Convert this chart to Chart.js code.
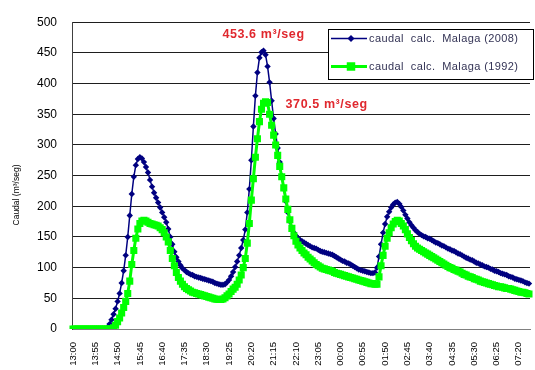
<!DOCTYPE html>
<html>
<head>
<meta charset="utf-8">
<script src="https://cdn.jsdelivr.net/npm/chart.js@4.4.1/dist/chart.umd.min.js"></script>
<style>
  html, body { margin: 0; padding: 0; background: #ffffff; }
  canvas { display: block; }
</style>
</head>
<body>
<canvas id="c" width="535" height="370"></canvas>
<script>
// ---- DATA ----
// Visible tick labels (every 55 minutes = every 11th 5‑minute sample)
const tickLabels = ["13:00","13:55","14:50","15:45","16:40","17:35","18:30","19:25","20:20","21:15",
  "22:10","23:05","00:00","00:55","01:50","02:45","03:40","04:35","05:30","06:25","07:20"];

// Categories: 5-minute time steps starting at 13:00
const startMinutes = 13 * 60;
const stepMinutes = 5;
const nPoints = 226;
const categories = [];
for (let i = 0; i < nPoints; i++) {
  const m = (startMinutes + i * stepMinutes) % (24 * 60);
  categories.push(String(Math.floor(m / 60)).padStart(2, "0") + ":" + String(m % 60).padStart(2, "0"));
}

const caudal2008 = [
  0,0,0,0,0,0,0,0,0,0,
  0,0,0,0,0,0,0,2,8,15,
  24,33,45,58,75,95,120,150,185,220,
  248,267,277,280,278,272,264,255,243,232,
  222,214,206,198,190,182,174,163,150,138,
  126,117,110,104,99,96,93,91,89,88,
  86,85,84,83,82,81,80,79,78,77,
  75,74,73,72,72,73,76,80,86,93,
  101,110,120,132,145,162,190,228,275,330,
  380,418,442,451,453.6,447,428,402,372,343,
  318,295,272,250,228,208,190,175,164,157,
  152,148,145,143,141,139,137,135,133,132,
  131,129,127,126,125,124,123,122,121,119,
  117,115,113,111,110,108,107,105,103,101,
  99,97,96,95,94,93,92,91,91,92,
  100,118,138,157,171,183,191,198,203,206,
  207,204,199,193,186,180,174,169,165,161,
  158,155,153,151,150,148,147,145,143,141,
  140,138,136,135,133,131,130,128,127,125,
  123,122,120,118,116,115,113,112,110,108,
  107,105,104,102,101,100,98,97,95,94,
  93,91,90,89,88,86,85,84,82,81,
  80,79,78,76,75,74
];

const caudal1992 = [
  0,0,0,0,0,0,0,0,0,0,
  0,0,0,0,0,0,0,0,0,0,
  2,6,12,18,26,35,45,58,78,105,
  128,148,163,172,176,177,176,174,172,171,
  170,169,168,165,162,157,150,142,128,115,
  103,92,84,78,73,69,66,64,62,60,
  59,58,57,56,55,54,53,52,51,50,
  49,48.5,48,48,49,51,54,57,61,65,
  68,73,80,88,100,115,140,172,210,245,
  280,310,338,358,368,370.5,369,350,332,316,
  300,283,265,248,230,212,195,178,164,152,
  143,137,132,128,124,121,117,114,111,108,
  105,103,101,99,98,97,96,95,94,92,
  91,90,89,88,87,86,85,84,83,82,
  81,80,79,78,77,76,75,74,74,73,
  73,85,103,120,135,148,157,165,171,175,
  177,176,172,168,162,155,149,144,139,135,
  132,130,128,126,124,122,120,118,116,114,
  112,110,108,106,104,102,100,99,97,96,
  94,93,91,89,88,86,85,84,82,81,
  80,78,77,76,75,74,73,72,71,70,
  69,69,68,67,66,66,65,64,63,62,
  61,60,60,59,58,57
];

const seriesNames = ["caudal  calc.  Malaga (2008)", "caudal  calc.  Malaga (1992)"];
const peakLabels = ["453.6 m\u00B3/seg", "370.5 m\u00B3/seg"];
const yTitle = "Caudal (m\u00B3/seg)";

const FONT = "'Liberation Sans', Arial, sans-serif";
const BLUE = "#000080";
const GREEN = "#00ff00";

// ---- custom drawing: y title, legend box, peak annotations ----
const extras = {
  id: "extras",
  afterDraw(chart) {
    const ctx = chart.ctx;
    const xs = chart.scales.x, ys = chart.scales.y;
    ctx.save();
    // Y-axis title
    ctx.save();
    ctx.translate(17, 195);
    ctx.rotate(-Math.PI / 2);
    ctx.fillStyle = "#000";
    ctx.font = "8.5px " + FONT;
    ctx.textAlign = "center";
    ctx.textBaseline = "middle";
    ctx.fillText(yTitle, 0, 0);
    ctx.restore();

    // Peak annotations
    const i1 = caudal2008.indexOf(Math.max(...caudal2008));
    const i2 = caudal1992.indexOf(Math.max(...caudal1992));
    ctx.fillStyle = "#e0282e";
    ctx.font = "bold 12.5px " + FONT;
    try { ctx.letterSpacing = "0.6px"; } catch (e) {}
    ctx.textBaseline = "middle";
    ctx.textAlign = "center";
    ctx.fillText(peakLabels[0], xs.getPixelForValue(i1), ys.getPixelForValue(caudal2008[i1]) - 16);
    ctx.textAlign = "left";
    ctx.fillText(peakLabels[1], xs.getPixelForValue(i2) + 20, ys.getPixelForValue(caudal1992[i2]) + 3);

    // Legend box
    const bx = 328, by = 29, bw = 205, bh = 50;
    try { ctx.letterSpacing = "0px"; } catch (e) {}
    ctx.fillStyle = "#fff";
    ctx.fillRect(bx, by, bw, bh);
    ctx.strokeStyle = "#000";
    ctx.lineWidth = 1;
    ctx.strokeRect(bx + 0.5, by + 0.5, bw, bh);
    const rows = [
      {y: 38.5, color: BLUE, lw: 1.5, style: "rectRot", r: 3.5},
      {y: 66.5, color: GREEN, lw: 3, style: "rect", r: 6}
    ];
    rows.forEach((row, k) => {
      ctx.strokeStyle = row.color;
      ctx.lineWidth = row.lw;
      ctx.beginPath();
      ctx.moveTo(331, row.y);
      ctx.lineTo(367, row.y);
      ctx.stroke();
      ctx.fillStyle = row.color;
      Chart.helpers.drawPoint(ctx, {pointStyle: row.style, radius: row.r, borderWidth: 0}, 351, row.y);
      ctx.fillStyle = "#333355";
      ctx.font = "11px " + FONT;
      try { ctx.letterSpacing = "0.4px"; } catch (e) {}
      ctx.textAlign = "left";
      ctx.textBaseline = "middle";
      ctx.fillText(seriesNames[k], 369, row.y + 0.5);
    });
    try { ctx.letterSpacing = "0px"; } catch (e) {}
    ctx.restore();
  }
};

new Chart(document.getElementById("c"), {
  type: "line",
  data: {
    labels: categories,
    datasets: [
      {
        label: seriesNames[0],
        data: caudal2008,
        borderColor: BLUE,
        backgroundColor: BLUE,
        borderWidth: 1.5,
        pointStyle: "rectRot",
        pointRadius: 3.2,
        pointBorderWidth: 0,
        tension: 0,
        order: 1
      },
      {
        label: seriesNames[1],
        data: caudal1992,
        borderColor: GREEN,
        backgroundColor: GREEN,
        borderWidth: 3,
        pointStyle: "rect",
        pointRadius: 5,
        pointBorderWidth: 0,
        tension: 0,
        order: 0
      }
    ]
  },
  options: {
    responsive: false,
    animation: false,
    events: [],
    layout: { padding: { top: 17, right: 0, left: 0, bottom: 0 } },
    plugins: { legend: { display: false }, tooltip: { enabled: false } },
    scales: {
      x: {
        type: "category",
        offset: true,
        grid: { display: false, drawTicks: false },
        border: { color: "#808080", width: 1 },
        ticks: {
          autoSkip: false,
          maxRotation: 90,
          minRotation: 90,
          padding: 13,
          color: "#000",
          font: { size: 9.5, family: FONT },
          callback: (v, i) => (i % 11 === 0 ? tickLabels[i / 11] : "")
        },
        afterFit: (s) => { s.height = 41; s.paddingLeft = 0; s.paddingRight = 0; }
      },
      y: {
        min: 0,
        max: 500,
        ticks: { stepSize: 50, padding: 15, color: "#000", font: { size: 12, family: FONT } },
        grid: { color: "#1e1e1e", lineWidth: 1, drawTicks: false },
        border: { color: "#404040", width: 1 },
        afterFit: (s) => { s.width = 72; }
      }
    }
  },
  plugins: [extras]
});
</script>
</body>
</html>
